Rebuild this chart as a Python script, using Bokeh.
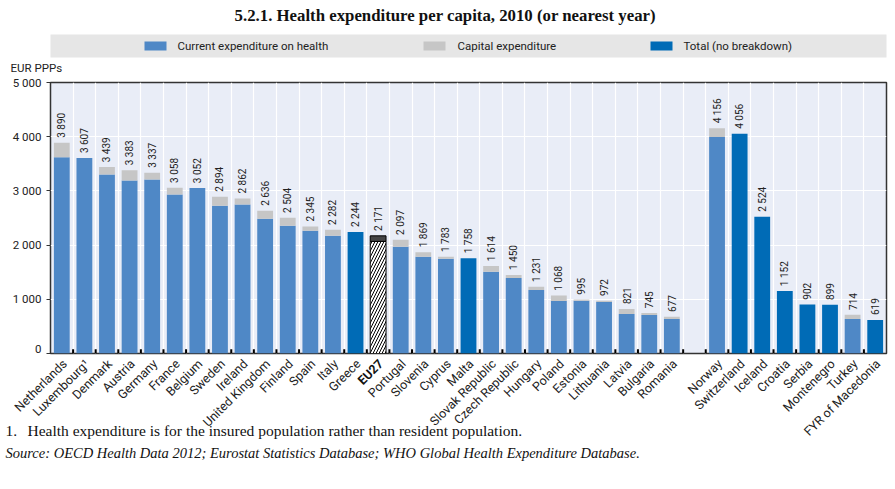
from bokeh.plotting import figure
from bokeh.models import ColumnDataSource, Range1d, FixedTicker
from bokeh.layouts import column
from bokeh.core.properties import value
from bokeh.embed import file_html
from bokeh.resources import INLINE

# ---------------- data ----------------
countries = ["Netherlands", "Luxembourg\u00b9", "Denmark", "Austria", "Germany", "France",
             "Belgium", "Sweden", "Ireland", "United Kingdom", "Finland", "Spain", "Italy",
             "Greece", "EU27", "Portugal", "Slovenia", "Cyprus", "Malta", "Slovak Republic",
             "Czech Republic", "Hungary", "Poland", "Estonia", "Lithuania", "Latvia",
             "Bulgaria", "Romania",
             "Norway", "Switzerland", "Iceland", "Croatia", "Serbia", "Montenegro",
             "Turkey", "FYR of Macedonia"]
# printed totals (EUR PPPs)
totals = [3890, 3607, 3439, 3383, 3337, 3058, 3052, 2894, 2862, 2636, 2504, 2345, 2282,
          2244, 2171, 2097, 1869, 1783, 1758, 1614, 1450, 1231, 1068, 995, 972, 821,
          745, 677,
          4156, 4056, 2524, 1152, 902, 899, 714, 619]
# capital expenditure part
capital = [270, 0, 137, 192, 127, 126, 0, 166, 115, 148, 146, 80, 109,
           0, 103, 128, 85, 36, 0, 108, 55, 58, 99, 20, 21, 93,
           35, 41,
           161, 0, 0, 0, 0, 0, 78, 0]
# kind: b = current + capital breakdown, t = total only, e = EU average
kind = ["b", "b", "b", "b", "b", "b", "b", "b", "b", "b", "b", "b", "b",
        "t", "e", "b", "b", "b", "t", "b", "b", "b", "b", "b", "b", "b",
        "b", "b",
        "b", "t", "t", "t", "t", "t", "b", "t"]
n_eu = 28
y_ticks = [0, 1000, 2000, 3000, 4000, 5000]
title = "5.2.1.  Health expenditure per capita, 2010 (or nearest year)"
legend_labels = ["Current expenditure on health", "Capital expenditure", "Total (no breakdown)"]
y_unit = "EUR PPPs"
note = "Health expenditure is for the insured population rather than resident population."
source = "Source:  OECD Health Data 2012; Eurostat Statistics Database; WHO Global Health Expenditure Database."

# ---------------- styling ----------------
C_CUR = "#4f88c6"
C_CAP = "#c6c6c6"
C_TOT = "#006bb6"
C_BG = "#e9edf7"
SANS = "Roboto"
SERIF = "Liberation Serif"
TXT = "#222222"

def fmt(v):
    return f"{v:,}".replace(",", " ")

nslots = len(countries) + 1
xpos = [i + 0.5 if i < n_eu else i + 1.5 for i in range(len(countries))]
current = [t - c for t, c in zip(totals, capital)]

def sub(k):
    idx = [i for i, kk in enumerate(kind) if kk == k]
    return ColumnDataSource(dict(
        x=[xpos[i] for i in idx],
        cur=[current[i] for i in idx],
        tot=[totals[i] for i in idx],
    ))

W = 888
FL, FR = 50, 886          # frame left / right in pixels
TOP_H, MAIN_H, BOT_H = 74, 281, 126

# ---------------- top: title + legend ----------------
top = figure(width=W, height=TOP_H, x_range=Range1d(0, W), y_range=Range1d(0, TOP_H),
             output_backend="svg", toolbar_location=None, x_axis_type=None,
             y_axis_type=None, min_border=0, frame_align=False)
top.outline_line_color = None
top.xgrid.visible = False
top.ygrid.visible = False
top.text(x=[447], y=[59], text=[title],
         text_font=value(SERIF), text_font_style="bold", text_font_size="16.8px",
         text_align="center", text_baseline="middle", text_color="#111111")
top.quad(left=[FL], right=[FR], bottom=[17], top=[40], fill_color="#e6e6e6", line_color=None)
top.quad(left=[144, 423, 650], right=[166, 445, 672], bottom=[24, 24, 24], top=[33, 33, 33],
         fill_color=[C_CUR, C_CAP, C_TOT], line_color=None)
top.text(x=[177, 457, 683], y=[28.5, 28.5, 28.5], text=legend_labels,
         text_font=value(SANS), text_font_size="11.5px", text_align="left",
         text_baseline="middle", text_color=TXT)
top.text(x=[10], y=[7], text=[y_unit], text_font=value(SANS), text_font_size="11.5px",
         text_align="left", text_baseline="middle", text_color=TXT)

# ---------------- main chart ----------------
p = figure(width=W, height=MAIN_H, x_range=Range1d(0, nslots),
           y_range=Range1d(0, 5000), output_backend="svg", toolbar_location=None,
           min_border_left=FL, min_border_right=W - FR, min_border_top=8, min_border_bottom=2,
           frame_align=False)
p.xaxis.visible = False
p.background_fill_color = C_BG
p.border_fill_color = "white"
p.outline_line_color = "#333333"
p.outline_line_width = 1.5

bounds = list(range(1, nslots))
p.xgrid.ticker = FixedTicker(ticks=bounds)
p.ygrid.ticker = FixedTicker(ticks=y_ticks)
p.xgrid.grid_line_color = "white"
p.ygrid.grid_line_color = "white"
p.xgrid.grid_line_width = 1.2
p.ygrid.grid_line_width = 1.2

p.yaxis.ticker = FixedTicker(ticks=y_ticks)
p.yaxis.major_label_overrides = {t: fmt(t) for t in y_ticks}
p.yaxis.major_label_text_font = SANS
p.yaxis.major_label_text_font_size = "11.5px"
p.yaxis.major_label_text_color = TXT
p.yaxis.major_label_standoff = 5
p.yaxis.major_tick_in = 0
p.yaxis.major_tick_out = 4
p.yaxis.major_tick_line_color = "#333333"
p.yaxis.minor_tick_line_color = None
p.yaxis.axis_line_color = None

BW = 0.7
sb = sub("b")
p.vbar(x="x", bottom=0, top="cur", width=BW, source=sb, fill_color=C_CUR, line_color=None)
p.vbar(x="x", bottom="cur", top="tot", width=BW, source=sb, fill_color=C_CAP, line_color=None)
st = sub("t")
p.vbar(x="x", bottom=0, top="tot", width=BW, source=st, fill_color=C_TOT, line_color=None)
se = sub("e")
p.vbar(x="x", bottom=0, top="cur", width=BW, source=se, fill_color="white", line_color="black",
       line_width=1, hatch_pattern="/", hatch_color="black", hatch_scale=6, hatch_weight=1)
p.vbar(x="x", bottom="cur", top="tot", width=BW, source=se, fill_color="#444444",
       line_color="black", line_width=1)

# category tick marks (inside, at bottom)
p.segment(x0=bounds, x1=bounds, y0=[0] * len(bounds), y1=[80] * len(bounds),
          line_color="black", line_width=2)

lab_src = ColumnDataSource(dict(x=xpos, y=[t + 90 for t in totals], text=[fmt(t) for t in totals]))
p.text(x="x", y="y", text="text", source=lab_src, angle=1.5708, text_font=value(SANS),
       text_font_size="10px", text_align="left", text_baseline="middle", text_color=TXT)

# ---------------- bottom: category labels + notes ----------------
unit = (FR - FL) / nslots          # pixels per slot
def px2x(px):
    return (px - FL) / unit

bot = figure(width=W, height=BOT_H, x_range=Range1d(px2x(0), px2x(W)), y_range=Range1d(0, BOT_H),
             output_backend="svg", toolbar_location=None, x_axis_type=None,
             y_axis_type=None, min_border=0, frame_align=False)
bot.outline_line_color = None
bot.xgrid.visible = False
bot.ygrid.visible = False

names_plain = [c for c, k in zip(countries, kind) if k != "e"]
x_plain = [x + 0.12 for x, k in zip(xpos, kind) if k != "e"]
names_bold = [c for c, k in zip(countries, kind) if k == "e"]
x_bold = [x + 0.12 for x, k in zip(xpos, kind) if k == "e"]
bot.text(x=x_plain, y=[BOT_H - 6] * len(x_plain), text=names_plain, angle=0.7854,
         text_font=value(SANS), text_font_size="12.5px", text_align="right",
         text_baseline="middle", text_color=TXT)
bot.text(x=x_bold, y=[BOT_H - 6] * len(x_bold), text=names_bold, angle=0.7854,
         text_font=value(SANS), text_font_size="12.5px", text_font_style="bold",
         text_align="right", text_baseline="middle", text_color="#111111")

bot.text(x=[px2x(5), px2x(27)], y=[51, 51], text=["1.", note],
         text_font=value(SERIF), text_font_size="15.5px", text_align="left",
         text_baseline="middle", text_color="#111111")
bot.text(x=[px2x(5)], y=[29], text=[source],
         text_font=value(SERIF), text_font_size="14.5px", text_font_style="italic",
         text_align="left", text_baseline="middle", text_color="#111111")

layout = column(top, p, bot, spacing=0)
open("out.html", "w").write(file_html(layout, INLINE))
